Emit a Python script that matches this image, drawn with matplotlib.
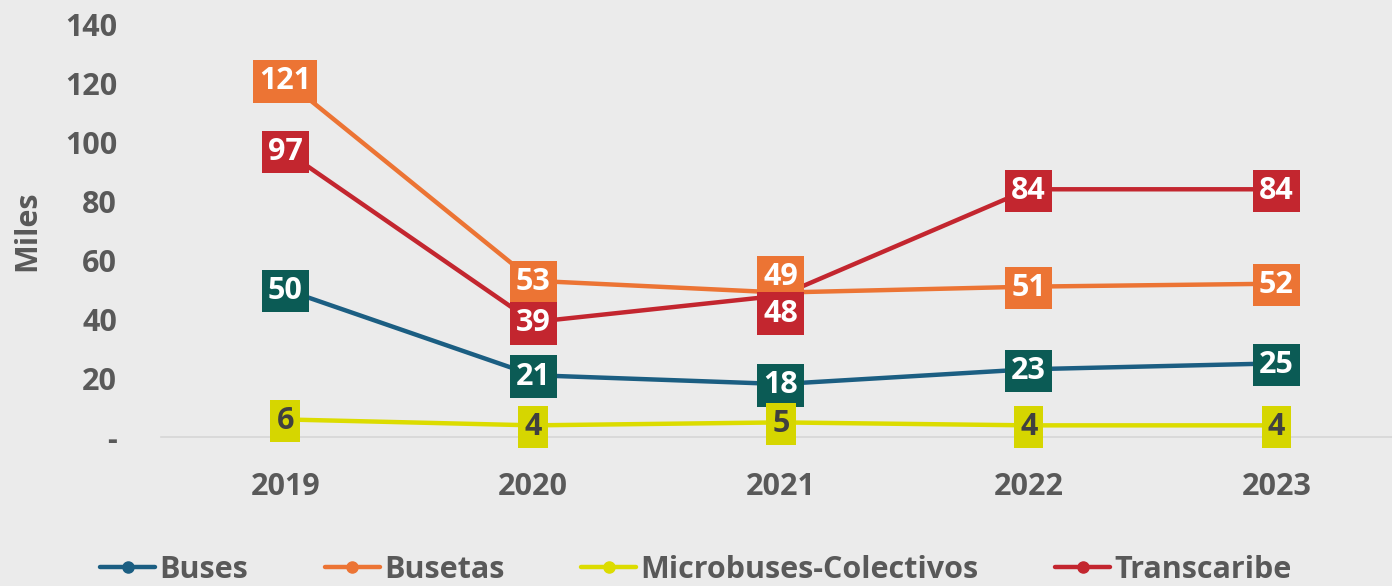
import matplotlib.pyplot as plt
import matplotlib.ticker as mticker

years = ['2019', '2020', '2021', '2022', '2023']
buses = [50, 21, 18, 23, 25]
busetas = [121, 53, 49, 51, 52]
micro = [6, 4, 5, 4, 4]
transcaribe = [97, 39, 48, 84, 84]

series = [
    ('Buses', buses, '#1b5e82', '#0b5b55', 'white'),
    ('Busetas', busetas, '#ec7434', '#ec7434', 'white'),
    ('Microbuses-Colectivos', micro, '#dcdc00', '#d6d600', '#404040'),
    ('Transcaribe', transcaribe, '#c3262f', '#c3262f', 'white'),
]
# label offsets (points) where labels would overlap
offsets = {('Busetas', 2): 11, ('Transcaribe', 2): -13}

bg = '#ebebeb'
grey = '#595959'
plt.rcParams['font.family'] = ['Open Sans', 'DejaVu Sans']

fig = plt.figure(figsize=(13.92, 5.86), dpi=100, facecolor=bg)
ax = fig.add_axes([0.116, 0.254, 0.89, 0.705], facecolor=bg)

x = list(range(len(years)))
for name, vals, lc, bc, tc in series:
    ax.plot(x, vals, color=lc, lw=3.2, marker='o', ms=8, label=name,
            solid_capstyle='round')
for name, vals, lc, bc, tc in series:
    for i, v in enumerate(vals):
        dy = offsets.get((name, i), -1)
        ax.annotate(str(v), (i, v), xytext=(0, dy), textcoords='offset points',
                    ha='center', va='center', fontsize=22, fontweight='bold',
                    color=tc, zorder=5,
                    bbox=dict(boxstyle='square,pad=0.2', fc=bc, ec='none'))

ax.set_xlim(-0.5, 4.5)
ax.set_ylim(0, 140)
ax.set_yticks(range(0, 141, 20))
ax.yaxis.set_major_formatter(mticker.FuncFormatter(lambda v, p: '-' if v == 0 else '%d' % v))
ax.set_xticks(x)
ax.set_xticklabels(years)
for s in ['top', 'right', 'left']:
    ax.spines[s].set_visible(False)
ax.spines['bottom'].set_color('#d6d6d6')
ax.spines['bottom'].set_linewidth(1.2)
ax.tick_params(axis='both', length=0, labelsize=22, labelcolor=grey)
ax.tick_params(axis='x', pad=25)
ax.tick_params(axis='y', pad=32)
for lab in ax.get_xticklabels() + ax.get_yticklabels():
    lab.set_fontweight('bold')
ax.set_ylabel('Miles', fontsize=22, fontweight='bold', color=grey, labelpad=16)

leg = fig.legend(loc='lower center', ncol=4, frameon=False, bbox_to_anchor=(0.5, -0.045),
                 prop={'size': 22, 'weight': 'bold'}, handlelength=1.8,
                 handletextpad=0.15, columnspacing=2.5)
for t in leg.get_texts():
    t.set_color(grey)

fig.savefig('out.png', dpi=100, facecolor=bg)
